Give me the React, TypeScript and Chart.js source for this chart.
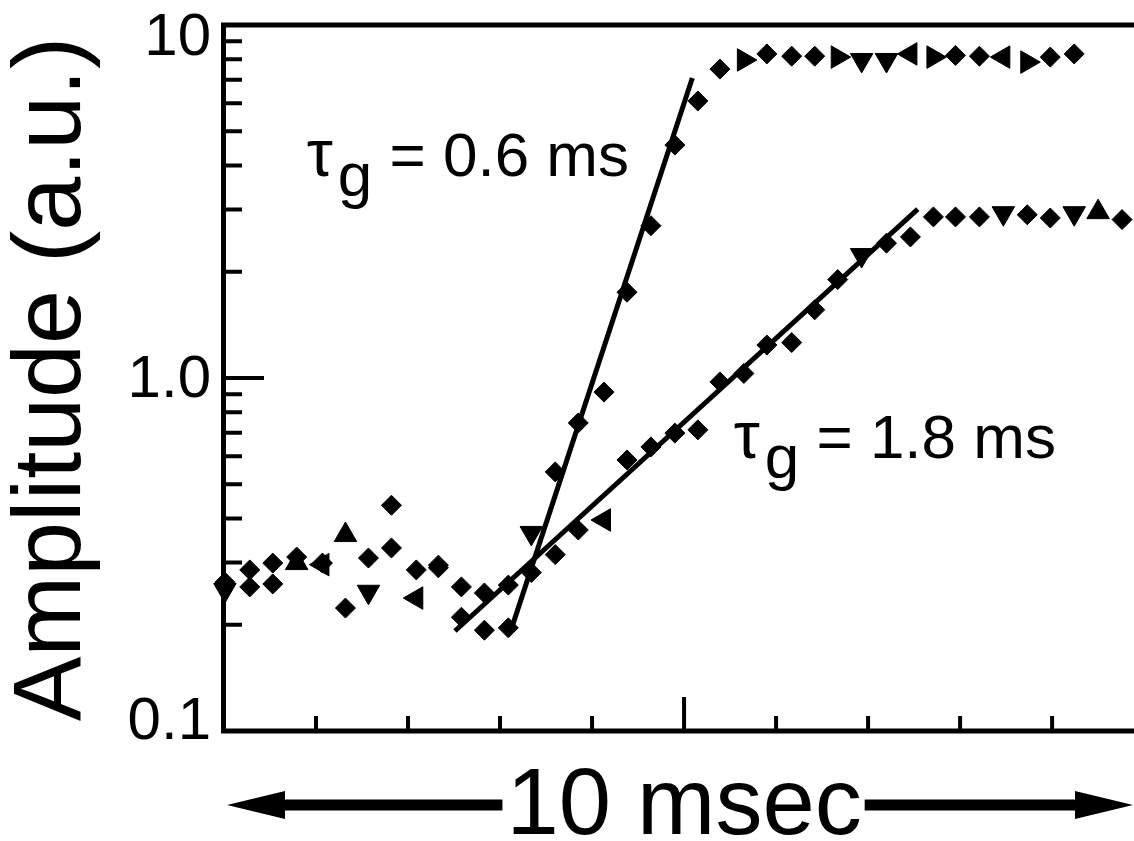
import React, { useEffect, useRef } from "react";
import { Chart, registerables } from "chart.js";

Chart.register(...registerables);

// ---- data (time in ms, amplitude in a.u.) ----
const TIME_MS = [
  0.01, 0.28, 0.53, 0.79, 1.07, 1.32, 1.57, 1.82, 2.09, 2.33, 2.58, 2.83, 3.09,
  3.34, 3.6, 3.85, 4.13, 4.38, 4.64, 4.9, 5.15, 5.39, 5.65, 5.9, 6.17, 6.42,
  6.67, 6.93, 7.2, 7.46, 7.71, 7.95, 8.21, 8.47, 8.73, 8.98, 9.24, 9.5, 9.76,
];
const FAST_AMPLITUDE = [
  0.251, 0.256, 0.261, 0.311, 0.299, 0.223, 0.248, 0.33, 0.238, 0.295, 0.21,
  0.193, 0.196, 0.364, 0.542, 0.746, 0.912, 1.75, 2.7, 4.57, 6.09, 7.5, 7.96,
  8.28, 8.16, 8.16, 8.11, 7.96, 7.96, 8.28, 8.11, 8.2, 8.16, 8.11, 7.85, 8.11,
  8.28,
];
const SLOW_AMPLITUDE = [
  0.264, 0.286, 0.299, 0.299, 0.296, 0.359, 0.309, 0.436, 0.286, 0.29, 0.256,
  0.246, 0.259, 0.281, 0.316, 0.371, 0.396, 0.586, 0.638, 0.698, 0.713, 0.975,
  1.03, 1.24, 1.26, 1.56, 1.9, 2.23, 2.41, 2.51, 2.86, 2.86, 2.86, 2.93, 2.9,
  2.84, 2.93, 2.95, 2.81,
];
const FAST_FIT_TIME = [3.11, 5.09];
const FAST_FIT_AMPLITUDE = [0.19, 7.08];
const SLOW_FIT_TIME = [2.51, 7.54];
const SLOW_FIT_AMPLITUDE = [0.192, 3.01];

const FAST_LABEL = "= 0.6 ms";
const SLOW_LABEL = "= 1.8 ms";
const FAST_LABEL_AT = [0.9, 3.73];
const SLOW_LABEL_AT = [5.54, 0.593];

const Y_MAJOR_TICKS = [0.1, 1, 10];
const Y_TICK_LABELS = ["0.1", "1.0", "10"];
const Y_MINOR_TICKS = [0.2, 0.3, 0.4, 0.5, 0.6, 0.7, 0.8, 0.9, 2, 3, 4, 5, 6, 7, 8, 9];
const X_MINOR_TICKS = [1, 2, 3, 4, 6, 7, 8, 9];
const X_MAJOR_TICKS = [5];
const X_MIN = 0;
const X_MAX = 9.89;
const Y_TITLE = "Amplitude (a.u.)";
const X_TITLE = "10 msec";

// marker shape oddities (index -> triangle rotation in degrees)
const FAST_TRIANGLES: Record<number, number> = {
  0: 180, 6: 180, 8: 270, 13: 180, 22: 90, 26: 90, 27: 180, 28: 180, 29: 270, 30: 90, 33: 270, 34: 90,
};
const SLOW_TRIANGLES: Record<number, number> = {
  3: 0, 4: 270, 5: 0, 16: 270, 27: 180, 33: 180, 36: 180, 37: 0,
};

const FONT = "'Liberation Sans', Arial, sans-serif";

function toPoints(xs: number[], ys: number[]) {
  return ys.map((y, i) => ({ x: xs[i], y }));
}

function markerOpts(tri: Record<number, number>) {
  return {
    pointStyle: (c: any) => (tri[c.dataIndex] !== undefined ? "triangle" : "rectRot"),
    pointRotation: (c: any) => tri[c.dataIndex] ?? 0,
    pointRadius: (c: any) => (tri[c.dataIndex] !== undefined ? 13 : 10),
    pointBackgroundColor: "#000",
    pointBorderColor: "#000",
    pointBorderWidth: 1,
    showLine: false,
    clip: false as any,
  };
}

const decorPlugin = {
  id: "decor",
  afterDraw(chart: any) {
    const { ctx, chartArea, scales } = chart;
    const xs = scales.x;
    const ys = scales.y;
    const L = chartArea.left;
    const R = chart.width;
    const T = chartArea.top;
    const B = chartArea.bottom;
    ctx.save();
    ctx.strokeStyle = "#000";
    ctx.fillStyle = "#000";
    ctx.lineCap = "butt";

    // frame
    ctx.lineWidth = 5;
    ctx.beginPath();
    ctx.moveTo(L - 0.5, T - 2.5);
    ctx.lineTo(L - 0.5, B + 2.5);
    ctx.moveTo(L - 3, T);
    ctx.lineTo(R, T);
    ctx.moveTo(L - 3, B);
    ctx.lineTo(R, B);
    ctx.stroke();

    // y ticks
    ctx.lineWidth = 4;
    ctx.beginPath();
    Y_MAJOR_TICKS.forEach((v) => {
      const y = ys.getPixelForValue(v);
      ctx.moveTo(L, y);
      ctx.lineTo(L + 40, y);
    });
    Y_MINOR_TICKS.forEach((v) => {
      const y = ys.getPixelForValue(v);
      ctx.moveTo(L, y);
      ctx.lineTo(L + 18, y);
    });
    ctx.stroke();

    // x ticks
    ctx.lineWidth = 4;
    ctx.beginPath();
    X_MINOR_TICKS.forEach((v) => {
      const x = xs.getPixelForValue(v);
      ctx.moveTo(x, B);
      ctx.lineTo(x, B - 15);
    });
    X_MAJOR_TICKS.forEach((v) => {
      const x = xs.getPixelForValue(v);
      ctx.moveTo(x, B);
      ctx.lineTo(x, B - 34);
    });
    ctx.stroke();

    // y tick labels
    ctx.font = `60px ${FONT}`;
    ctx.textAlign = "right";
    ctx.textBaseline = "middle";
    Y_MAJOR_TICKS.forEach((v, i) => {
      let y = ys.getPixelForValue(v);
      y = Math.min(Math.max(y, T + 11), B - 11);
      ctx.fillText(Y_TICK_LABELS[i], L - 13, y + 2);
    });

    // y title
    ctx.save();
    ctx.translate(80, (T + B) / 2 + 1);
    ctx.rotate(-Math.PI / 2);
    ctx.font = `97px ${FONT}`;
    ctx.textAlign = "center";
    ctx.textBaseline = "alphabetic";
    ctx.fillText(Y_TITLE, 0, 0);
    ctx.restore();

    // x title with arrows
    const cx = xs.getPixelForValue(5);
    ctx.font = `94px ${FONT}`;
    ctx.textAlign = "center";
    ctx.textBaseline = "alphabetic";
    ctx.fillText(X_TITLE, cx, 834);
    const tw = ctx.measureText(X_TITLE).width;
    const ay = 805;
    const leftTip = L + 3;
    const rightTip = R - 1;
    const headLen = 58;
    const headHalf = 14;
    const shaftHalf = 5.5;
    const textL = cx - tw / 2 - 4;
    const textR = cx + tw / 2 + 3;
    ctx.beginPath();
    ctx.moveTo(leftTip, ay);
    ctx.lineTo(leftTip + headLen, ay - headHalf);
    ctx.lineTo(leftTip + headLen, ay - shaftHalf);
    ctx.lineTo(textL, ay - shaftHalf);
    ctx.lineTo(textL, ay + shaftHalf);
    ctx.lineTo(leftTip + headLen, ay + shaftHalf);
    ctx.lineTo(leftTip + headLen, ay + headHalf);
    ctx.closePath();
    ctx.fill();
    ctx.beginPath();
    ctx.moveTo(rightTip, ay);
    ctx.lineTo(rightTip - headLen, ay - headHalf);
    ctx.lineTo(rightTip - headLen, ay - shaftHalf);
    ctx.lineTo(textR, ay - shaftHalf);
    ctx.lineTo(textR, ay + shaftHalf);
    ctx.lineTo(rightTip - headLen, ay + shaftHalf);
    ctx.lineTo(rightTip - headLen, ay + headHalf);
    ctx.closePath();
    ctx.fill();

    // tau annotations
    const drawTau = (at: number[], rest: string) => {
      const x0 = xs.getPixelForValue(at[0]);
      const y0 = ys.getPixelForValue(at[1]);
      ctx.font = `66px ${FONT}`;
      ctx.textAlign = "left";
      ctx.textBaseline = "alphabetic";
      ctx.fillText("τ", x0, y0);
      ctx.font = `62px ${FONT}`;
      const gx = x0 + 31;
      ctx.fillText("g", gx, y0 + 20);
      const rx = gx + ctx.measureText("g").width;
      ctx.fillText(" " + rest, rx, y0);
    };
    drawTau(FAST_LABEL_AT, FAST_LABEL);
    drawTau(SLOW_LABEL_AT, SLOW_LABEL);

    ctx.restore();
  },
};

export default function App() {
  const ref = useRef<HTMLCanvasElement | null>(null);
  useEffect(() => {
    if (!ref.current) return;
    const chart = new Chart(ref.current, {
      type: "scatter",
      data: {
        datasets: [
          {
            label: "fast fit",
            data: toPoints(FAST_FIT_TIME, FAST_FIT_AMPLITUDE),
            showLine: true,
            borderColor: "#000",
            borderWidth: 5,
            pointRadius: 0,
            clip: false as any,
          },
          {
            label: "slow fit",
            data: toPoints(SLOW_FIT_TIME, SLOW_FIT_AMPLITUDE),
            showLine: true,
            borderColor: "#000",
            borderWidth: 5,
            pointRadius: 0,
            clip: false as any,
          },
          {
            label: "fast",
            data: toPoints(TIME_MS, FAST_AMPLITUDE),
            ...markerOpts(FAST_TRIANGLES),
          } as any,
          {
            label: "slow",
            data: toPoints(TIME_MS, SLOW_AMPLITUDE),
            ...markerOpts(SLOW_TRIANGLES),
          } as any,
        ],
      },
      options: {
        responsive: false,
        animation: false,
        layout: { autoPadding: false, padding: { left: 224, top: 25, right: 0, bottom: 110 } },
        plugins: { legend: { display: false }, tooltip: { enabled: false } },
        scales: {
          x: { type: "linear", min: X_MIN, max: X_MAX, display: false },
          y: { type: "logarithmic", min: 0.1, max: 10, display: false },
        },
      },
      plugins: [decorPlugin],
    });
    return () => chart.destroy();
  }, []);
  return (
    <div style={{ position: "fixed", left: 0, top: 0, width: 1134, height: 841, background: "#fff" }}>
      <canvas ref={ref} width={1134} height={841} style={{ width: 1134, height: 841, display: "block" }} />
    </div>
  );
}
